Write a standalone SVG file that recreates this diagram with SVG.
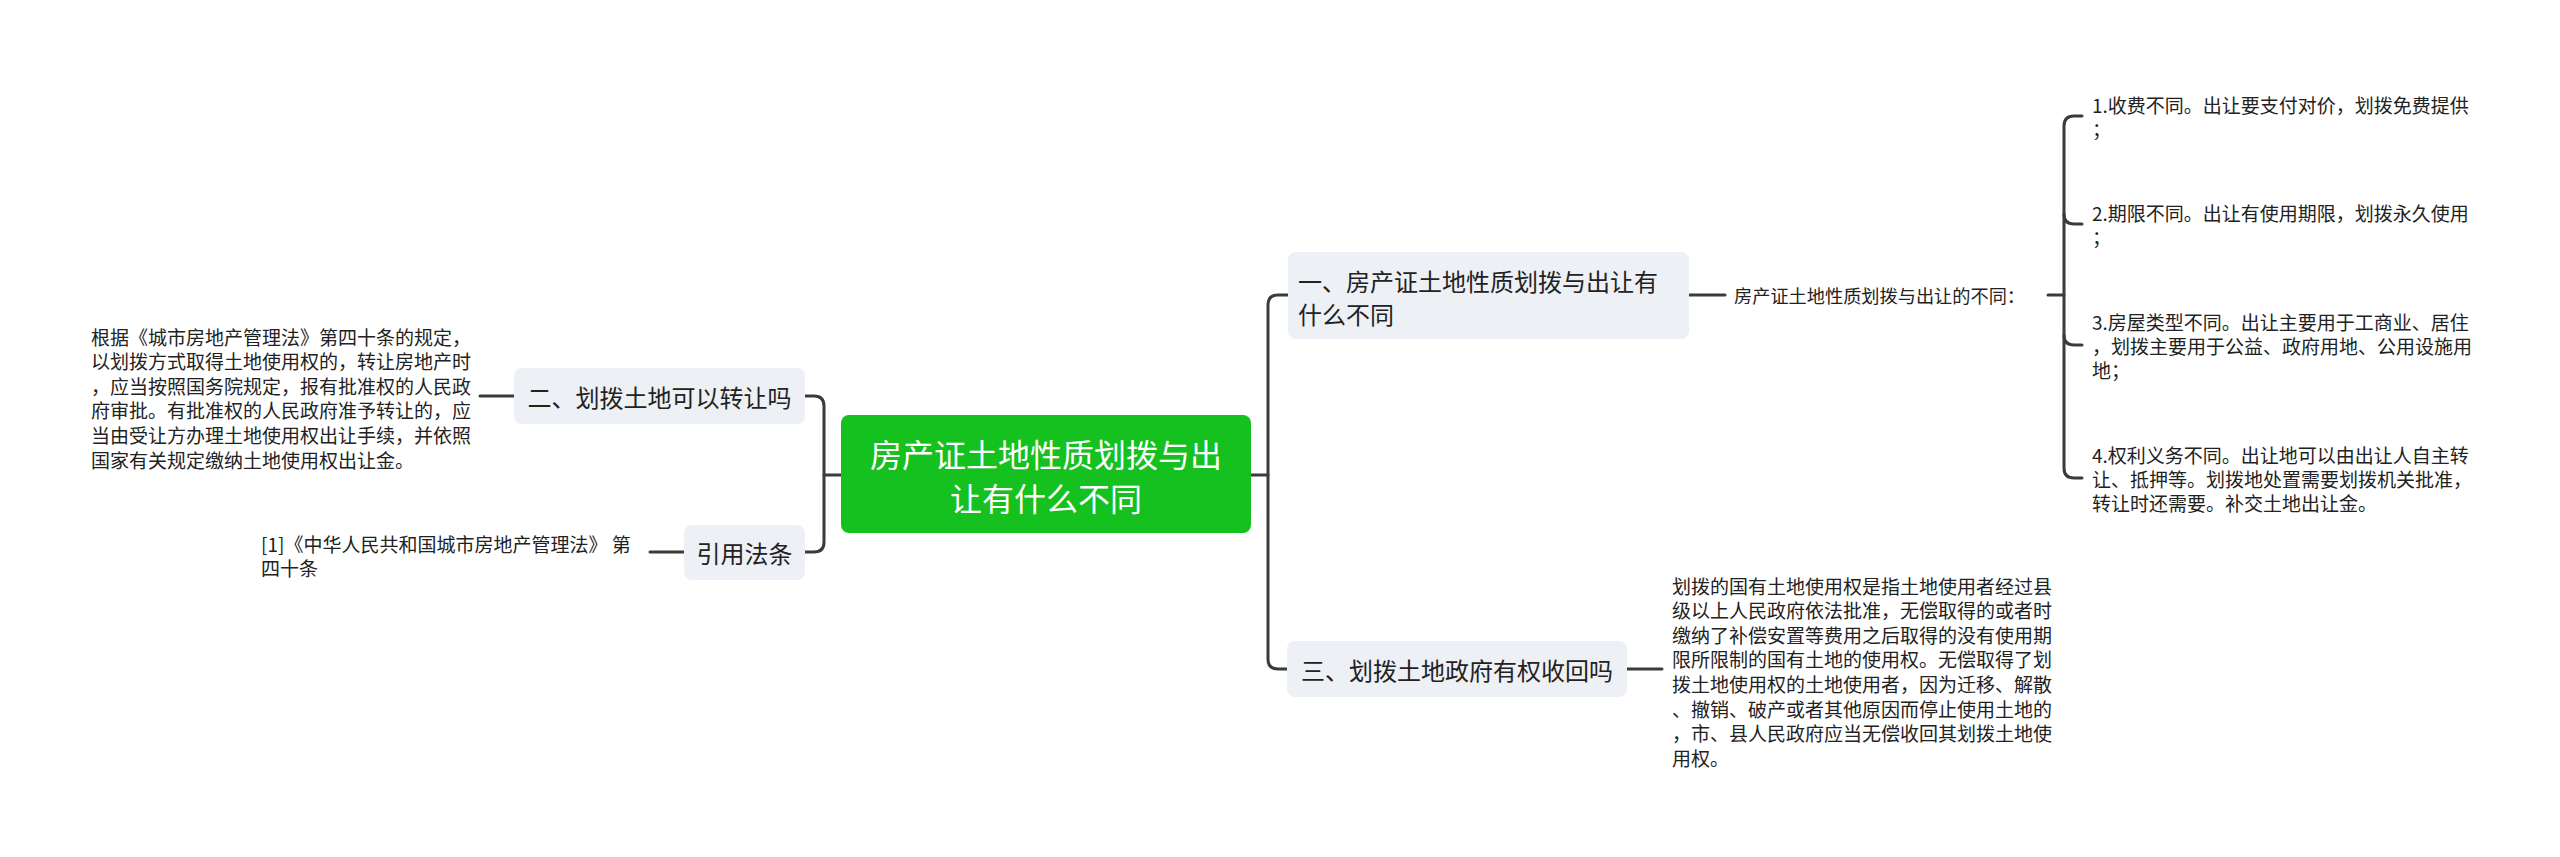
<svg xmlns="http://www.w3.org/2000/svg" width="2560" height="857" viewBox="0 0 2560 857">
<style>
text{font-family:"Noto Sans CJK SC","Noto Sans",sans-serif;fill:#222;dominant-baseline:central}
.node rect{fill:#edf0f4}
.n{font-size:24px}
.s{font-size:19px}
.c{font-size:32px;fill:#fff}
#connectors path{fill:none;stroke:#3b3b3b;stroke-width:3;stroke-linecap:round}
</style>
<rect width="2560" height="857" fill="#fff"/>
<g id="connectors">
<path d="M805,396 H814 Q824,396 824,406 V542 Q824,552 814,552 H805"/>
<path d="M841,475 H824"/>
<path d="M480,396 H514"/>
<path d="M650,552 H684"/>
<path d="M1251,475 H1268"/>
<path d="M1288,295 H1278 Q1268,295 1268,305 V659 Q1268,669 1278,669 H1287"/>
<path d="M1689,295 H1725"/>
<path d="M1627,669 H1662"/>
<path d="M2048,295 H2064"/>
<path d="M2082,116 H2074 Q2064,116 2064,126 V468 Q2064,478 2074,478 H2082"/>
<path d="M2064,214 Q2064,224 2074,224 H2082"/>
<path d="M2064,335 Q2064,345 2074,345 H2082"/>
</g>
<g id="central">
<rect x="841" y="415" width="410" height="118" rx="8" fill="#15c11f"/>
<text class="c" x="1046" y="453" text-anchor="middle">房产证土地性质划拨与出</text>
<text class="c" x="1046" y="497" text-anchor="middle">让有什么不同</text>
</g>
<g id="n2" class="node">
<rect x="514" y="368" width="291" height="56" rx="8"/>
<text class="n" x="659.5" y="396" text-anchor="middle">二、划拨土地可以转让吗</text>
</g>
<g id="n2text">
<text class="s" x="91" y="336">根据《城市房地产管理法》第四十条的规定，</text>
<text class="s" x="91" y="360.6">以划拨方式取得土地使用权的，转让房地产时</text>
<text class="s" x="91" y="385.2">，应当按照国务院规定，报有批准权的人民政</text>
<text class="s" x="91" y="409.8">府审批。有批准权的人民政府准予转让的，应</text>
<text class="s" x="91" y="434.4">当由受让方办理土地使用权出让手续，并依照</text>
<text class="s" x="91" y="459">国家有关规定缴纳土地使用权出让金。</text>
</g>
<g id="ref" class="node">
<rect x="684" y="525" width="121" height="55" rx="8"/>
<text class="n" x="744.5" y="552" text-anchor="middle">引用法条</text>
</g>
<g id="reftext">
<text class="s" x="261" y="543">[1]《中华人民共和国城市房地产管理法》 第</text>
<text class="s" x="261" y="567">四十条</text>
</g>
<g id="n1" class="node">
<rect x="1288" y="252" width="401" height="87" rx="8"/>
<text class="n" x="1298" y="280">一、房产证土地性质划拨与出让有</text>
<text class="n" x="1298" y="313">什么不同</text>
</g>
<g id="n1sub">
<text class="s" x="1734" y="295" style="font-size:18.2px">房产证土地性质划拨与出让的不同：</text>
</g>
<g id="t1">
<text class="s" x="2092" y="104">1.收费不同。出让要支付对价，划拨免费提供</text>
<text class="s" x="2092" y="128">；</text>
</g>
<g id="t2">
<text class="s" x="2092" y="212">2.期限不同。出让有使用期限，划拨永久使用</text>
<text class="s" x="2092" y="236">；</text>
</g>
<g id="t3">
<text class="s" x="2092" y="321">3.房屋类型不同。出让主要用于工商业、居住</text>
<text class="s" x="2092" y="345">，划拨主要用于公益、政府用地、公用设施用</text>
<text class="s" x="2092" y="369">地；</text>
</g>
<g id="t4">
<text class="s" x="2092" y="454">4.权利义务不同。出让地可以由出让人自主转</text>
<text class="s" x="2092" y="478">让、抵押等。划拨地处置需要划拨机关批准，</text>
<text class="s" x="2092" y="502">转让时还需要。补交土地出让金。</text>
</g>
<g id="n3" class="node">
<rect x="1287" y="641" width="340" height="56" rx="8"/>
<text class="n" x="1457" y="669" text-anchor="middle">三、划拨土地政府有权收回吗</text>
</g>
<g id="n3text">
<text class="s" x="1672" y="585">划拨的国有土地使用权是指土地使用者经过县</text>
<text class="s" x="1672" y="609.6">级以上人民政府依法批准，无偿取得的或者时</text>
<text class="s" x="1672" y="634.2">缴纳了补偿安置等费用之后取得的没有使用期</text>
<text class="s" x="1672" y="658.8">限所限制的国有土地的使用权。无偿取得了划</text>
<text class="s" x="1672" y="683.4">拨土地使用权的土地使用者，因为迁移、解散</text>
<text class="s" x="1672" y="708">、撤销、破产或者其他原因而停止使用土地的</text>
<text class="s" x="1672" y="732.6">，市、县人民政府应当无偿收回其划拨土地使</text>
<text class="s" x="1672" y="757.2">用权。</text>
</g>
</svg>
